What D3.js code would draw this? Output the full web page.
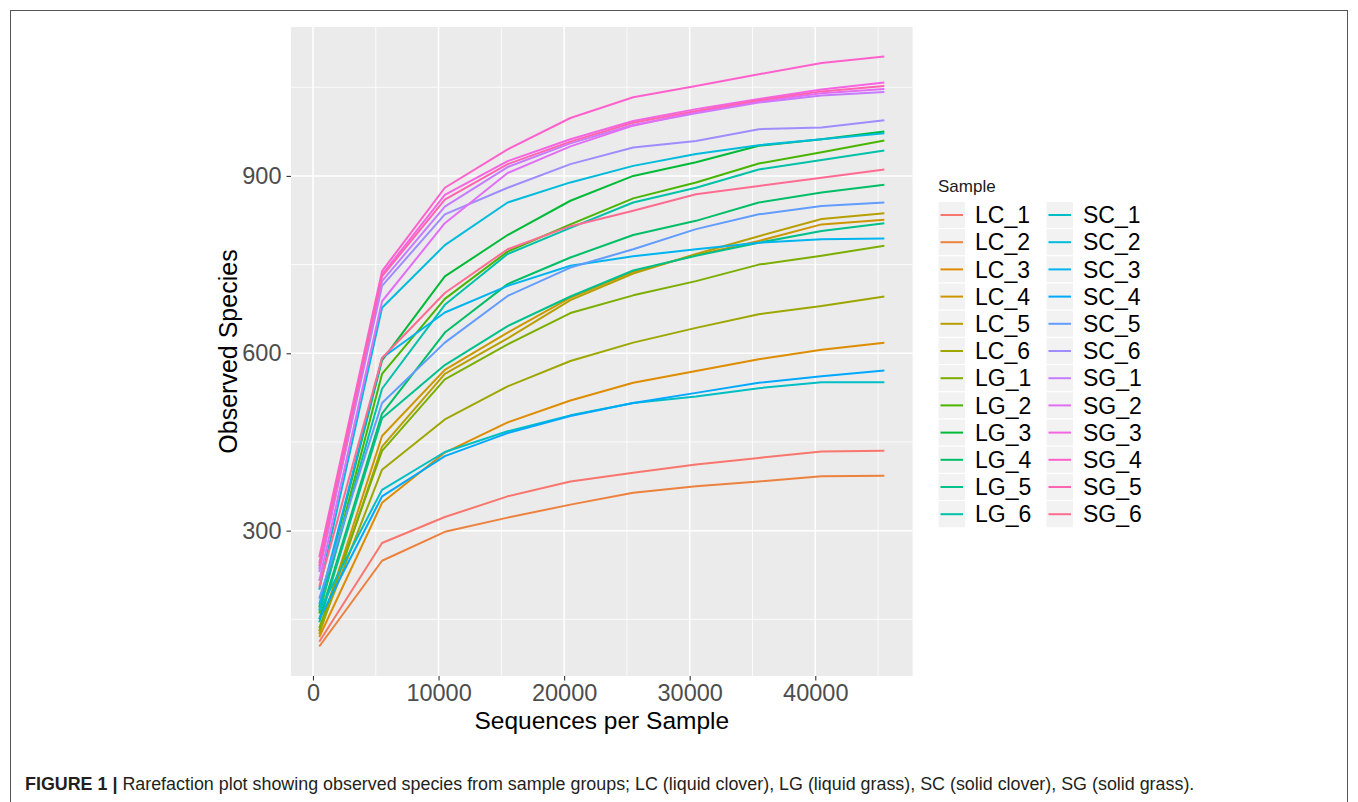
<!DOCTYPE html>
<html>
<head>
<meta charset="utf-8">
<script src="https://cdn.jsdelivr.net/npm/d3@7"></script>
<style>
  body { margin: 0; background: #fff; }
  svg { display: block; font-family: "Liberation Sans", Arial, sans-serif; }
</style>
</head>
<body>
<script>
// sequencing depths (x) of the rarefaction steps
var depths = [500, 5500, 10500, 15500, 20500, 25500, 30500, 35500, 40500, 45500];

// observed species per sample group, one row per sample (_1 .. _6)
var lcObs = [
  [112, 279, 323, 358, 383, 398, 412, 423, 434, 435],
  [104, 249, 298, 322, 344, 364, 375, 383, 392, 393],
  [120, 347, 432, 483, 520, 550, 570, 590, 606, 618],
  [130, 460, 572, 635, 694, 738, 766, 790, 818, 826],
  [125, 442, 565, 625, 690, 735, 768, 798, 827, 837],
  [130, 403, 488, 544, 587, 618, 643, 666, 680, 696]
];
var lgObs = [
  [135, 435, 556, 615, 668, 698, 722, 750, 765, 782],
  [160, 565, 692, 772, 818, 862, 889, 921, 940, 960],
  [170, 588, 730, 800, 858, 900, 923, 951, 962, 975],
  [150, 498, 635, 717, 762, 800, 824, 855, 872, 885],
  [145, 490, 580, 646, 696, 740, 765, 787, 807, 820],
  [165, 540, 682, 768, 812, 855, 880, 911, 927, 943]
];
var scObs = [
  [165, 369, 433, 468, 495, 516, 527, 541, 551, 551],
  [200, 677, 783, 855, 889, 917, 937, 952, 962, 972],
  [175, 592, 669, 714, 748, 764, 776, 787, 793, 794],
  [150, 358, 426, 465, 494, 516, 533, 550, 561, 571],
  [185, 516, 618, 697, 745, 776, 810, 835, 849, 855],
  [235, 714, 835, 880, 920, 948, 959, 979, 982, 994]
];
var sgObs = [
  [230, 722, 848, 915, 955, 986, 1006, 1024, 1036, 1042],
  [215, 688, 820, 905, 950, 985, 1008, 1026, 1040, 1047],
  [245, 733, 868, 925, 962, 993, 1013, 1030, 1046, 1058],
  [255, 739, 880, 945, 998, 1033, 1052, 1072, 1091, 1102],
  [240, 730, 860, 920, 958, 990, 1010, 1028, 1043, 1052],
  [205, 592, 702, 776, 815, 841, 869, 883, 897, 911]
];
var groups = ["LC", "LG", "SC", "SG"];
var groupObs = [lcObs, lgObs, scObs, sgObs];

var xTicks = [0, 10000, 20000, 30000, 40000];
var yTicks = [300, 600, 900];

// ggplot2 default hue palette (polarLUV, l = 65, c = 100)
function hclLuv(h, c, l) {
  var WY = 100, Wu = 0.1978398, Wv = 0.4683363;
  var Y = WY * Math.pow((l + 16) / 116, 3);
  var rad = h * Math.PI / 180;
  var U = c * Math.cos(rad) / (13 * l) + Wu;
  var V = c * Math.sin(rad) / (13 * l) + Wv;
  var X = 9 * Y * U / (4 * V);
  var Z = -X / 3 - 5 * Y + 3 * Y / V;
  function g(u) { return u > 0.00304 ? 1.055 * Math.pow(u, 1 / 2.4) - 0.055 : 12.92 * u; }
  function cl(v) { return Math.round(255 * Math.max(0, Math.min(1, v))); }
  var r = g((3.240479 * X - 1.537150 * Y - 0.498535 * Z) / WY);
  var gg = g((-0.969256 * X + 1.875992 * Y + 0.041556 * Z) / WY);
  var b = g((0.055648 * X - 0.204043 * Y + 1.057311 * Z) / WY);
  return d3.rgb(cl(r), cl(gg), cl(b)).formatHex();
}

// build series list
var series = [];
groups.forEach(function(gname, gi) {
  groupObs[gi].forEach(function(row, ri) {
    series.push({
      name: gname + "_" + (ri + 1),
      values: row.map(function(v, k) { return {x: depths[k], y: v}; })
    });
  });
});
var n = series.length;
series.forEach(function(s, i) { s.color = hclLuv(15 + 360 * i / n, 100, 65); });

var W = 1358, H = 802;
var panel = {left: 291, right: 912.6, top: 27, bottom: 676};

var svg = d3.select("body").append("svg")
    .attr("width", W)
    .attr("height", H);

// outer frame of the figure
svg.append("rect")
    .attr("x", 10.5).attr("y", 10.5)
    .attr("width", 1337).attr("height", 820)
    .attr("fill", "none")
    .attr("stroke", "#555")
    .attr("stroke-width", 1);

// scales with ggplot's 5% expansion
var xExt = d3.extent(depths);
var allY = [];
series.forEach(function(s) { s.values.forEach(function(d) { allY.push(d.y); }); });
var yExt = d3.extent(allY);
var xPad = (xExt[1] - xExt[0]) * 0.05, yPad = (yExt[1] - yExt[0]) * 0.05;

var x = d3.scaleLinear()
    .domain([xExt[0] - xPad, xExt[1] + xPad])
    .range([panel.left, panel.right]);
var y = d3.scaleLinear()
    .domain([yExt[0] - yPad, yExt[1] + yPad])
    .range([panel.bottom, panel.top]);

// panel background
svg.append("rect")
    .attr("x", panel.left).attr("y", panel.top)
    .attr("width", panel.right - panel.left)
    .attr("height", panel.bottom - panel.top)
    .attr("fill", "#EBEBEB");

// minor + major grid
var xMinor = xTicks.map(function(t) { return t + 5000; });
var yMinor = [150, 450, 750, 1050];
var grid = svg.append("g");
grid.selectAll("line.xminor").data(xMinor).enter().append("line")
    .attr("x1", function(d) { return x(d); }).attr("x2", function(d) { return x(d); })
    .attr("y1", panel.top).attr("y2", panel.bottom)
    .attr("stroke", "#fff").attr("stroke-width", 0.8);
grid.selectAll("line.yminor").data(yMinor).enter().append("line")
    .attr("y1", function(d) { return y(d); }).attr("y2", function(d) { return y(d); })
    .attr("x1", panel.left).attr("x2", panel.right)
    .attr("stroke", "#fff").attr("stroke-width", 0.8);
grid.selectAll("line.xmajor").data(xTicks).enter().append("line")
    .attr("x1", function(d) { return x(d); }).attr("x2", function(d) { return x(d); })
    .attr("y1", panel.top).attr("y2", panel.bottom)
    .attr("stroke", "#fff").attr("stroke-width", 1.5);
grid.selectAll("line.ymajor").data(yTicks).enter().append("line")
    .attr("y1", function(d) { return y(d); }).attr("y2", function(d) { return y(d); })
    .attr("x1", panel.left).attr("x2", panel.right)
    .attr("stroke", "#fff").attr("stroke-width", 1.5);

// lines
var line = d3.line()
    .x(function(d) { return x(d.x); })
    .y(function(d) { return y(d.y); });

svg.append("g").selectAll("path")
    .data(series)
  .enter().append("path")
    .attr("d", function(d) { return line(d.values); })
    .attr("fill", "none")
    .attr("stroke", function(d) { return d.color; })
    .attr("stroke-width", 2)
    .attr("stroke-linejoin", "round");

// axes
var xAxis = svg.append("g")
    .attr("transform", "translate(0," + panel.bottom + ")")
    .call(d3.axisBottom(x).tickValues(xTicks).tickFormat(d3.format("d")).tickSize(4.5).tickPadding(4));
var yAxis = svg.append("g")
    .attr("transform", "translate(" + panel.left + ",0)")
    .call(d3.axisLeft(y).tickValues(yTicks).tickSize(4.5).tickPadding(5));
[xAxis, yAxis].forEach(function(a) {
  a.select(".domain").remove();
  a.selectAll(".tick line").attr("stroke", "#333").attr("stroke-width", 1.1);
  a.selectAll(".tick text")
      .attr("fill", "#4D4D4D")
      .style("font-size", "23.5px")
      .style("font-family", "'Liberation Sans', Arial, sans-serif");
});

// axis titles
svg.append("text")
    .attr("x", (panel.left + panel.right) / 2)
    .attr("y", 729)
    .attr("text-anchor", "middle")
    .style("font-size", "24.5px")
    .attr("fill", "#000")
    .text("Sequences per Sample");
svg.append("text")
    .attr("transform", "translate(237," + ((panel.top + panel.bottom) / 2) + ") rotate(-90)")
    .attr("text-anchor", "middle")
    .style("font-size", "25px")
    .attr("fill", "#000")
    .text("Observed Species");

// legend
var legend = svg.append("g");
legend.append("text")
    .attr("x", 938).attr("y", 192)
    .style("font-size", "17px")
    .attr("fill", "#1a1a1a")
    .text("Sample");
var rowH = 27.2, row0 = 215, colX = [938, 1046];
var item = legend.selectAll("g.item")
    .data(series)
  .enter().append("g")
    .attr("transform", function(d, i) {
      return "translate(" + colX[Math.floor(i / 12)] + "," + (row0 + (i % 12) * rowH) + ")";
    });
item.append("rect")
    .attr("x", 0).attr("y", -rowH / 2)
    .attr("width", 27.5).attr("height", rowH)
    .attr("fill", "#F2F2F2")
    .attr("stroke", "#fff").attr("stroke-width", 1);
item.append("line")
    .attr("x1", 2.5).attr("x2", 25)
    .attr("stroke", function(d) { return d.color; })
    .attr("stroke-width", 2);
item.append("text")
    .attr("x", 37).attr("y", 0).attr("dy", "0.36em")
    .style("font-size", "23px")
    .attr("fill", "#000")
    .text(function(d) { return d.name; });

// caption
var cap = svg.append("text")
    .attr("x", 25).attr("y", 790)
    .style("font-size", "16px")
    .style("font-family", "'Liberation Sans Narrow', 'Liberation Sans', Arial, sans-serif")
    .attr("fill", "#231f20");
cap.append("tspan").style("font-weight", "bold").text("FIGURE 1 | ");
cap.append("tspan").text("Rarefaction plot showing observed species from sample groups; LC (liquid clover), LG (liquid grass), SC (solid clover), SG (solid grass).");
var capLen = cap.node().getComputedTextLength();
cap.style("font-size", (16 * 1170 / capLen) + "px");
</script>
</body>
</html>
